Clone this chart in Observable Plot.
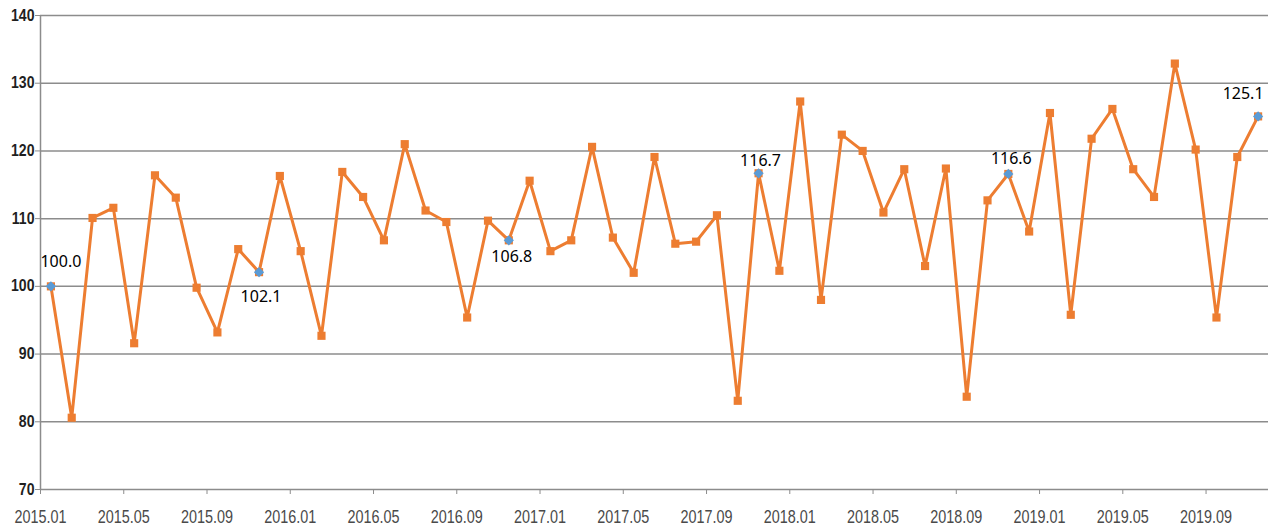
<!DOCTYPE html>
<html>
<head>
<meta charset="utf-8">
<script src="https://cdn.jsdelivr.net/npm/d3@7"></script>
<script src="https://cdn.jsdelivr.net/npm/@observablehq/plot@0.6"></script>
<style>
  html, body { margin: 0; padding: 0; background: #fff; }
  #chart svg { display: block; }
</style>
</head>
<body>
<div id="chart"></div>
<script>
const months = [
  "2015.01","2015.02","2015.03","2015.04","2015.05","2015.06","2015.07","2015.08","2015.09","2015.10","2015.11","2015.12",
  "2016.01","2016.02","2016.03","2016.04","2016.05","2016.06","2016.07","2016.08","2016.09","2016.10","2016.11","2016.12",
  "2017.01","2017.02","2017.03","2017.04","2017.05","2017.06","2017.07","2017.08","2017.09","2017.10","2017.11","2017.12",
  "2018.01","2018.02","2018.03","2018.04","2018.05","2018.06","2018.07","2018.08","2018.09","2018.10","2018.11","2018.12",
  "2019.01","2019.02","2019.03","2019.04","2019.05","2019.06","2019.07","2019.08","2019.09","2019.10","2019.11"
];
const values = [
  100.0, 80.6, 110.1, 111.6, 91.6, 116.4, 113.1, 99.8, 93.2, 105.5, 102.1, 116.3,
  105.2, 92.7, 116.9, 113.2, 106.8, 121.0, 111.2, 109.5, 95.4, 109.7, 106.8, 115.6,
  105.2, 106.8, 120.6, 107.2, 102.0, 119.1, 106.3, 106.6, 110.5, 83.1, 116.7, 102.3,
  127.3, 98.0, 122.4, 120.0, 110.9, 117.3, 103.0, 117.4, 83.7, 112.7, 116.6, 108.1,
  125.6, 95.8, 121.8, 126.2, 117.3, 113.2, 132.9, 120.2, 95.4, 119.1, 125.1
];
const highlightMonths = ["2015.01","2015.11","2016.11","2017.11","2018.11","2019.11"];
const yTicks = [70, 80, 90, 100, 110, 120, 130, 140];
const xTickLabels = ["2015.01","2015.05","2015.09","2016.01","2016.05","2016.09","2017.01","2017.05",
  "2017.09","2018.01","2018.05","2018.09","2019.01","2019.05","2019.09"];

const data = months.map((m, i) => ({ m, i, v: values[i] }));
const hlData = data.filter(d => highlightMonths.includes(d.m));
const xTickPos = xTickLabels.map(l => months.indexOf(l) - 0.5);

const ORANGE = "#ED7D31";
const BLUE = "#5B9BD5";
const GRID = "#8c8c8c";
const axisFont = "'Liberation Sans', Arial, sans-serif";
const labelFont = "'Noto Sans', 'Liberation Sans', sans-serif";

const label = (m, dx, dy) => Plot.text(hlData.filter(d => d.m === m), {
  x: "i", y: "v", text: d => d.v.toFixed(1), dx, dy,
  fill: "#000", fontSize: 16, fontFamily: labelFont
});

const chart = Plot.plot({
  width: 1275,
  height: 532,
  marginLeft: 40,
  marginRight: 7,
  marginTop: 15,
  marginBottom: 43,
  style: { background: "#fff", overflow: "visible" },
  x: { domain: [-0.5, months.length - 0.5], axis: null, label: null },
  y: { domain: [70, 140], axis: null, label: null },
  marks: [
    Plot.ruleY(yTicks, { stroke: GRID, strokeWidth: 1.5 }),
    Plot.ruleX([-0.5], { stroke: GRID, strokeWidth: 1.5 }),
    Plot.axisY(yTicks, {
      anchor: "left", tickSize: 5, tickPadding: 1, label: null,
      stroke: GRID, fill: "#1f1f1f", fontSize: 16, fontWeight: "bold",
      fontFamily: axisFont, tickFormat: d => String(d), ariaLabel: "y-axis"
    }),
    Plot.axisX(xTickPos, {
      anchor: "bottom", tickSize: 5, tickPadding: 16, label: null,
      stroke: GRID, fill: "#4a4a4a", fontSize: 18,
      fontFamily: axisFont, tickFormat: p => months[p + 0.5], ariaLabel: "x-axis"
    }),
    Plot.line(data, { x: "i", y: "v", stroke: ORANGE, strokeWidth: 3, curve: "linear" }),
    Plot.dot(data, { x: "i", y: "v", symbol: "square", r: 4.6, fill: ORANGE, stroke: "none" }),
    Plot.dot(hlData, { x: "i", y: "v", symbol: "diamond2", r: 4.6, fill: BLUE, stroke: "none" }),
    label("2015.01", 10, -24),
    label("2015.11", 2, 25),
    label("2016.11", 3, 17),
    label("2017.11", 2, -12),
    label("2018.11", 3, -15),
    label("2019.11", -15, -23)
  ]
});
document.getElementById("chart").appendChild(chart);

// Condense the axis tick labels horizontally (narrow typeface look), scaling about each label's anchor point
function condense(selector, k) {
  d3.select(chart).selectAll(selector).each(function () {
    const t = d3.select(this);
    const prev = t.attr("transform");
    if (prev) {
      t.attr("transform", `${prev} scale(${k},1)`);
    } else {
      const x = +(t.attr("x") || 0);
      t.attr("transform", `translate(${x},0) scale(${k},1) translate(${-x},0)`);
    }
  });
}
condense("g[aria-label='x-axis tick label'] text", 0.8);
condense("g[aria-label='y-axis tick label'] text", 0.88);
</script>
</body>
</html>
